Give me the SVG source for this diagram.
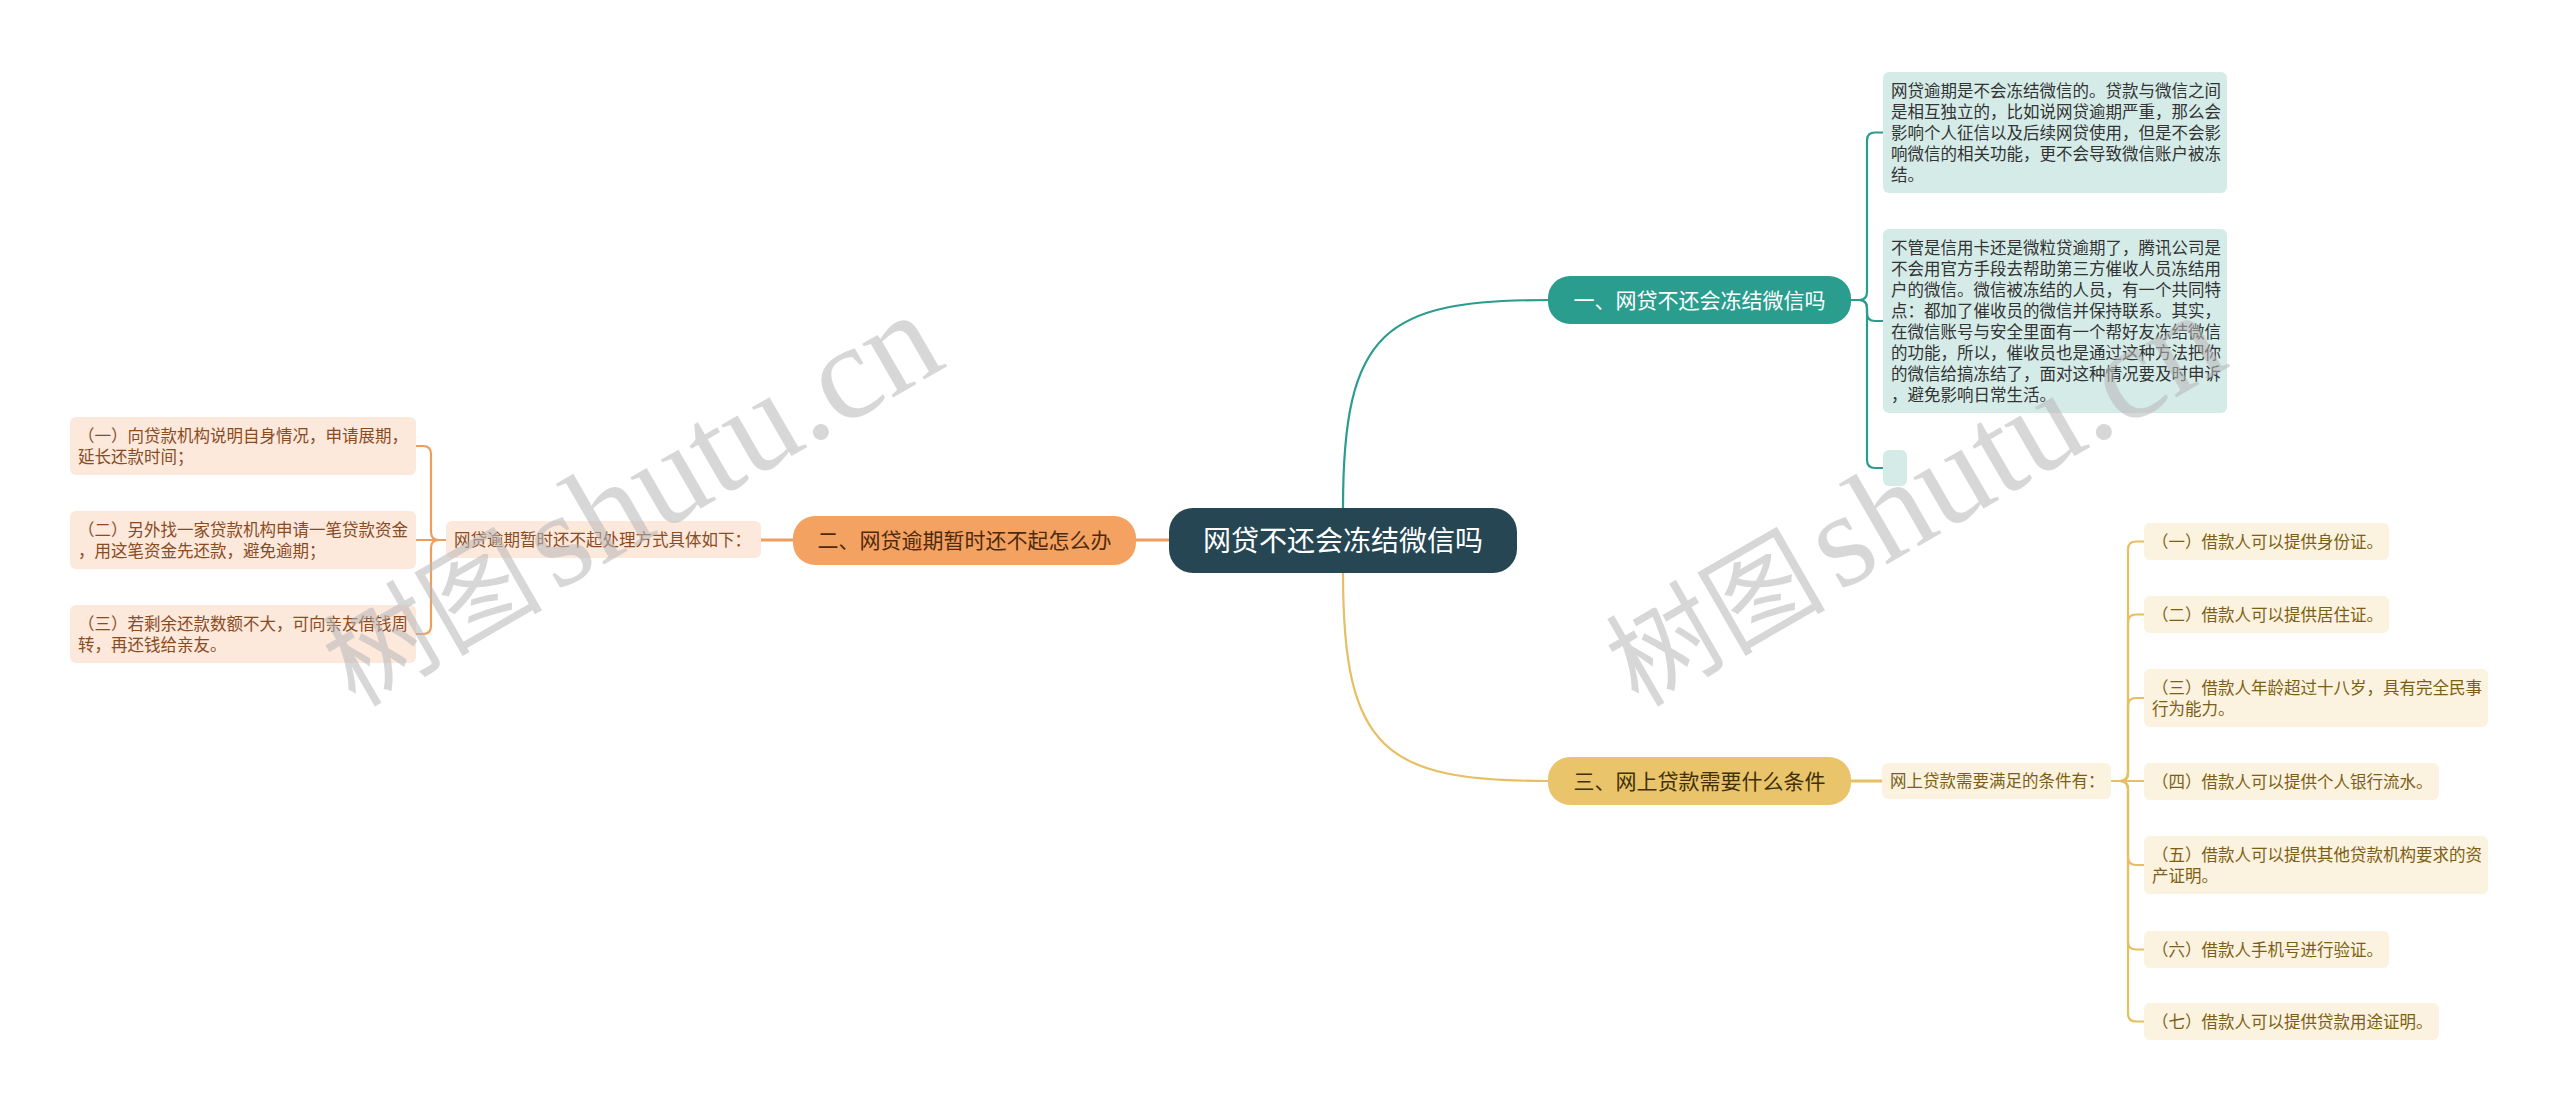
<svg xmlns="http://www.w3.org/2000/svg" width="2560" height="1111" viewBox="0 0 2560 1111">
<style>
text{font-family:"Noto Sans CJK SC","Noto Sans",sans-serif;}
.c{stroke-width:2.2;fill:none;stroke-linecap:round;}
.tl{stroke:#2a9d8f;}
.or{stroke:#ee9d5e;}
.ye{stroke:#e6bf62;}
.tbox{fill:#d5ebe8;}
.obox{fill:#fde8dc;}
.ybox{fill:#fbf2df;}
.tt{font-size:16.5px;fill:#333333;}
.ot{font-size:16.5px;fill:#8a4b1f;}
.yt{font-size:16.5px;fill:#7d5f14;}
.wm{fill:#b8b8b8;opacity:0.55;}
</style>
<rect width="2560" height="1111" fill="#ffffff"/>
<g id="connectors">
  <path class="c tl" d="M1343 508 C1343 330 1385 300 1548 300"/>
  <path class="c ye" d="M1343 573 C1343 751 1385 781 1548 781"/>
  <path class="c or" style="stroke-width:3" d="M1169 540 H1136"/>
  <path class="c tl" d="M1851 300 H1859 Q1867 300 1867 292 V140.5 Q1867 132.5 1875 132.5 H1883"/>
  <path class="c tl" d="M1851 300 H1859 Q1867 300 1867 308 V313 Q1867 321 1875 321 H1883"/>
  <path class="c tl" d="M1851 300 H1859 Q1867 300 1867 308 V460 Q1867 468 1875 468 H1883"/>
  <path class="c or" style="stroke-width:3" d="M793 540 H761"/>
  <path class="c or" d="M446 540 H439 Q431 540 431 532 V454 Q431 446 423 446 H416"/>
  <path class="c or" d="M446 540 H416"/>
  <path class="c or" d="M446 540 H439 Q431 540 431 548 V626 Q431 634 423 634 H416"/>
  <path class="c ye" style="stroke-width:3" d="M1851 781 H1882"/>
  <path class="c ye" d="M2111 781 H2120 Q2128 781 2128 773 V549.5 Q2128 541.5 2136 541.5 H2144"/>
  <path class="c ye" d="M2111 781 H2120 Q2128 781 2128 773 V622.5 Q2128 614.5 2136 614.5 H2144"/>
  <path class="c ye" d="M2111 781 H2120 Q2128 781 2128 773 V706 Q2128 698 2136 698 H2144"/>
  <path class="c ye" d="M2111 781 H2144"/>
  <path class="c ye" d="M2111 781 H2120 Q2128 781 2128 789 V857 Q2128 865 2136 865 H2144"/>
  <path class="c ye" d="M2111 781 H2120 Q2128 781 2128 789 V941.5 Q2128 949.5 2136 949.5 H2144"/>
  <path class="c ye" d="M2111 781 H2120 Q2128 781 2128 789 V1013.5 Q2128 1021.5 2136 1021.5 H2144"/>
</g>
<g id="root">
  <rect x="1169" y="508" width="348" height="65" rx="24" fill="#264653"/>
  <text x="1343" y="551" font-size="28" fill="#ffffff" text-anchor="middle">网贷不还会冻结微信吗</text>
</g>
<g id="b1">
  <rect x="1548" y="276" width="303" height="48" rx="22" fill="#2a9d8f"/>
  <text x="1699.5" y="308" font-size="21" fill="#ffffff" text-anchor="middle">一、网贷不还会冻结微信吗</text>
</g>
<g id="b2">
  <rect x="793" y="516" width="343" height="49" rx="22" fill="#f4a261"/>
  <text x="964.5" y="548" font-size="21" fill="#4e2a0e" text-anchor="middle">二、网贷逾期暂时还不起怎么办</text>
</g>
<g id="b3">
  <rect x="1548" y="757" width="303" height="48" rx="22" fill="#e9c46a"/>
  <text x="1699.5" y="789" font-size="21" fill="#3f3008" text-anchor="middle">三、网上贷款需要什么条件</text>
</g>
<g id="t1">
  <rect class="tbox" x="1883" y="72" width="344" height="121" rx="6"/>
  <text class="tt"><tspan x="1891" y="97">网贷逾期是不会冻结微信的。贷款与微信之间</tspan><tspan x="1891" y="118">是相互独立的，比如说网贷逾期严重，那么会</tspan><tspan x="1891" y="139">影响个人征信以及后续网贷使用，但是不会影</tspan><tspan x="1891" y="160">响微信的相关功能，更不会导致微信账户被冻</tspan><tspan x="1891" y="181">结。</tspan></text>
</g>
<g id="t2">
  <rect class="tbox" x="1883" y="229" width="344" height="184" rx="6"/>
  <text class="tt"><tspan x="1891" y="254">不管是信用卡还是微粒贷逾期了，腾讯公司是</tspan><tspan x="1891" y="275">不会用官方手段去帮助第三方催收人员冻结用</tspan><tspan x="1891" y="296">户的微信。微信被冻结的人员，有一个共同特</tspan><tspan x="1891" y="317">点：都加了催收员的微信并保持联系。其实，</tspan><tspan x="1891" y="338">在微信账号与安全里面有一个帮好友冻结微信</tspan><tspan x="1891" y="359">的功能，所以，催收员也是通过这种方法把你</tspan><tspan x="1891" y="380">的微信给搞冻结了，面对这种情况要及时申诉</tspan><tspan x="1891" y="401">，避免影响日常生活。</tspan></text>
</g>
<g id="t3">
  <rect class="tbox" x="1883" y="450" width="24" height="36" rx="6"/>
</g>
<g id="o0">
  <rect class="obox" x="446" y="521" width="315" height="37" rx="6"/>
  <text class="ot" x="454" y="546">网贷逾期暂时还不起处理方式具体如下：</text>
</g>
<g id="o1">
  <rect class="obox" x="70" y="417" width="346" height="58" rx="6"/>
  <text class="ot"><tspan x="78" y="442">（一）向贷款机构说明自身情况，申请展期，</tspan><tspan x="78" y="463">延长还款时间；</tspan></text>
</g>
<g id="o2">
  <rect class="obox" x="70" y="511" width="346" height="58" rx="6"/>
  <text class="ot"><tspan x="78" y="536">（二）另外找一家贷款机构申请一笔贷款资金</tspan><tspan x="78" y="557">，用这笔资金先还款，避免逾期；</tspan></text>
</g>
<g id="o3">
  <rect class="obox" x="70" y="605" width="346" height="58" rx="6"/>
  <text class="ot"><tspan x="78" y="630">（三）若剩余还款数额不大，可向亲友借钱周</tspan><tspan x="78" y="651">转，再还钱给亲友。</tspan></text>
</g>
<g id="y0">
  <rect class="ybox" x="1882" y="763" width="229" height="36" rx="6"/>
  <text class="yt" x="1890" y="787">网上贷款需要满足的条件有：</text>
</g>
<g id="y1">
  <rect class="ybox" x="2144" y="523" width="245" height="37" rx="6"/>
  <text class="yt" x="2152" y="548">（一）借款人可以提供身份证。</text>
</g>
<g id="y2">
  <rect class="ybox" x="2144" y="596" width="245" height="37" rx="6"/>
  <text class="yt" x="2152" y="621">（二）借款人可以提供居住证。</text>
</g>
<g id="y3">
  <rect class="ybox" x="2144" y="669" width="344" height="58" rx="6"/>
  <text class="yt"><tspan x="2152" y="694">（三）借款人年龄超过十八岁，具有完全民事</tspan><tspan x="2152" y="715">行为能力。</tspan></text>
</g>
<g id="y4">
  <rect class="ybox" x="2144" y="763" width="295" height="37" rx="6"/>
  <text class="yt" x="2152" y="788">（四）借款人可以提供个人银行流水。</text>
</g>
<g id="y5">
  <rect class="ybox" x="2144" y="836" width="344" height="58" rx="6"/>
  <text class="yt"><tspan x="2152" y="861">（五）借款人可以提供其他贷款机构要求的资</tspan><tspan x="2152" y="882">产证明。</tspan></text>
</g>
<g id="y6">
  <rect class="ybox" x="2144" y="931" width="245" height="37" rx="6"/>
  <text class="yt" x="2152" y="956">（六）借款人手机号进行验证。</text>
</g>
<g id="y7">
  <rect class="ybox" x="2144" y="1003" width="295" height="37" rx="6"/>
  <text class="yt" x="2152" y="1028">（七）借款人可以提供贷款用途证明。</text>
</g>
<g id="watermarks">
  <text class="wm" transform="translate(355,708) rotate(-30)"><tspan font-size="110">树图</tspan><tspan font-family="Liberation Serif" font-size="135" dx="12">shutu.cn</tspan></text>
  <text class="wm" transform="translate(1638,708) rotate(-30)"><tspan font-size="110">树图</tspan><tspan font-family="Liberation Serif" font-size="135" dx="12">shutu.cn</tspan></text>
</g>
</svg>
